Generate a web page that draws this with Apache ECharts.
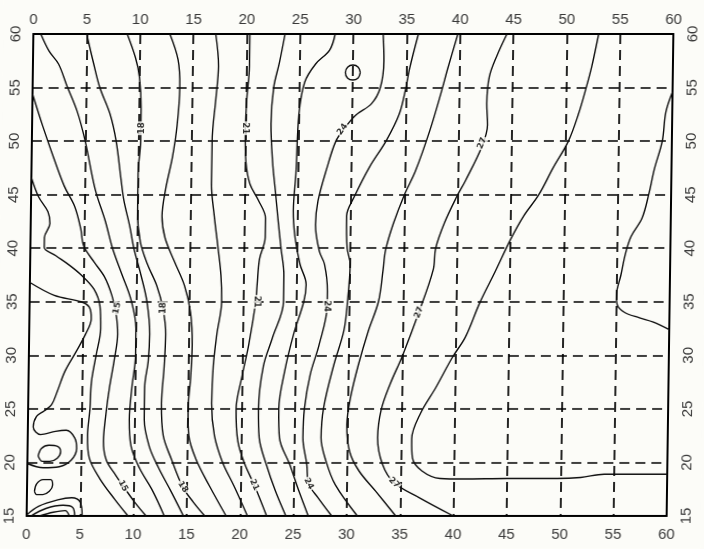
<!DOCTYPE html>
<html>
<head>
<meta charset="utf-8">
<script src="https://cdn.jsdelivr.net/npm/echarts@6/dist/echarts.min.js"></script>
<style>
  html, body { margin: 0; padding: 0; background: #fcfcf8; overflow: hidden; }
  /* the sheet sits very slightly slanted, like a scanned page */
  #chart { width: 704px; height: 549px; transform: skewX(-0.8deg); transform-origin: 350px 275px; }
</style>
</head>
<body>
<div id="chart"></div>
<script>
// Axis ticks
const xTicks = [0, 5, 10, 15, 20, 25, 30, 35, 40, 45, 50, 55, 60];
const yTicks = [15, 20, 25, 30, 35, 40, 45, 50, 55, 60];

// Contour polylines, one array per isoline, points as [x, y]
const c13 = [[0,36.8],[2.3,35.6],[4.8,35.0],[5.6,34.5],[5.8,33.4],[5.3,32.0],[4.4,30.3],[3.4,28.5],[2.7,26.6],[2.2,25.4],[1.5,24.8],[0.8,24.3],[0.5,23.3],[1.2,22.6],[2.6,22.9],[3.6,23.0],[4.4,22.3],[4.6,21.3],[4.1,20.2],[3.0,19.6],[1.5,19.5],[0,19.9]];
const loopA = [[1.0,20.6],[1.3,21.3],[2.0,21.6],[2.8,21.5],[3.1,21.0],[2.8,20.4],[2.1,20.1],[1.4,20.1],[1.0,20.6]];
const loopB = [[0.7,17.3],[0.9,18.0],[1.5,18.4],[2.2,18.4],[2.4,17.9],[2.1,17.3],[1.5,17.0],[0.9,17.0],[0.7,17.3]];
const arc1 = [[0,15.1],[1.1,15.9],[2.9,16.5],[4.2,16.7],[5.0,16.3],[5.2,15]];
const arc2 = [[0.4,15],[1.8,15.7],[3.4,16.0],[4.3,15.8],[4.5,15]];
const arc3 = [[1.2,15],[2.5,15.35],[3.6,15.5],[4.0,15]];
const c14 = [[0,46.6],[0.7,44.8],[1.6,43.4],[1.8,42.3],[1.3,41.0],[1.3,40.1],[2.4,39.3],[3.7,38.4],[4.8,37.5],[6.0,36.2],[6.6,34.6],[6.7,32.5],[6.3,30],[5.9,27.5],[5.8,25],[5.6,22.5],[5.8,20.4],[6.8,18.5],[8.2,16.6],[9.5,15]];
const c15 = [[0,54.4],[1.0,51.4],[1.9,48.9],[3.1,45.8],[4.1,43.9],[4.7,41.8],[5.0,40.2],[6.0,38.7],[7.0,37.3],[7.7,35.6],[8.1,34],[8.3,32],[8.0,29.5],[7.6,27],[7.3,24.5],[7.1,22],[7.4,20.2],[8.3,18.8],[9.0,17.8],[10.1,16.3],[11.2,15]];
const c16 = [[0.7,60],[1.5,58.4],[2.4,57.2],[3.2,55.2],[4.2,52.8],[5.0,50],[6.0,45.5],[7.0,42.5],[7.7,40],[8.6,37.6],[9.5,35.2],[10.0,32.5],[10.0,30],[9.7,27],[9.5,24],[9.7,21.5],[10.5,19.5],[11.8,17.3],[12.9,15]];
const c17 = [[5.0,60],[5.7,57.2],[6.3,55],[7.3,52.5],[7.9,50],[8.4,46.5],[8.7,44.5],[9.3,42],[9.7,40],[10.4,37.5],[11.0,35],[11.3,32],[11.2,29.5],[10.9,27],[10.9,24],[11.4,21.5],[12.3,19.5],[13.5,17.3],[14.7,15]];
const c18 = [[8.8,60],[9.6,57.8],[10.0,56],[10.2,53],[10.2,50],[10.0,47],[10.0,43.5],[10.3,40.6],[11.0,38.5],[11.9,36.5],[12.5,34.4],[12.8,32],[12.7,29],[12.5,25.5],[12.7,22.5],[13.5,20.3],[14.6,17.7],[15.6,16.3],[16.7,15]];
const c19 = [[12.8,60],[13.6,57.6],[13.8,55],[13.6,51.5],[13.2,48.5],[12.6,45.5],[12.3,43],[12.6,41],[13.5,38.8],[14.5,36.5],[15.1,34],[15.3,31],[15.2,28],[15.0,25],[15.1,22.5],[15.8,20.3],[17.1,17.8],[18.7,15]];
const c20 = [[17.1,60],[17.4,57],[17.2,54],[16.9,50],[16.9,46],[17.2,43],[17.6,40],[17.9,37.5],[18.0,35],[17.6,32],[17.3,29],[17.2,25.5],[17.5,22.5],[18.3,20],[19.4,17.8],[20.7,15]];
const c21 = [[20.3,60],[20.3,57],[20.1,54],[20.0,51],[20.1,48],[20.5,46],[21.3,44.5],[22.0,42.8],[22.0,41],[21.5,39],[21.3,36.5],[21.2,35],[20.6,31],[20.0,28],[19.5,25],[19.7,22],[20.4,19.8],[21.3,17.9],[22.5,15]];
const c22 = [[23.6,60],[23.1,57.3],[22.6,55],[22.4,51.6],[22.6,48],[22.9,45.3],[23.2,42.5],[23.5,40],[23.8,37.5],[23.8,35],[22.8,31.6],[22.0,29],[21.6,25],[21.7,22.3],[22.4,19.8],[23.3,17.3],[24.3,15]];
const c23 = [[28.3,60],[27.8,58.5],[26.5,57.2],[25.5,55.5],[25.0,52.5],[24.8,47],[24.6,43.5],[24.8,41],[25.3,38.5],[25.9,36.6],[25.7,35],[24.8,32],[24.0,28.5],[23.5,25],[23.6,22.3],[24.6,19.8],[25.5,17.3],[26.4,15]];
const c24 = [[32.8,60],[32.9,57.5],[32.6,55],[31.8,53.5],[30.3,52.4],[29.3,51.2],[28.5,50],[27.7,47.5],[26.9,44.4],[26.7,42.2],[27.1,39.7],[27.6,38.5],[27.9,36],[27.9,34.6],[27.2,31],[26.4,28.2],[25.9,25],[25.8,22.3],[26.2,19.8],[26.4,18],[27.3,16.7],[28.6,15]];
const c25 = [[36.1,60],[35.3,56.7],[35.0,55],[34.4,52.5],[33.2,50],[31.7,47.6],[30.3,44.8],[29.6,43],[29.7,40],[30.0,38.5],[29.8,35],[29.5,32.3],[28.6,29.1],[27.7,25.1],[27.5,22.3],[28.0,20.1],[28.9,17.9],[31.0,15]];
const c26 = [[39.8,60],[38.9,56.8],[38.3,54.5],[37.3,51],[36.0,47.2],[35.0,45],[34.0,42.3],[33.3,39.8],[33.1,38],[32.7,35],[31.8,32.3],[30.9,29.1],[30.2,26],[29.9,23.5],[30.2,21],[31.1,19.2],[32.7,17.3],[34.6,15]];
const c27 = [[44.4,60],[43.5,58],[42.8,56],[42.6,53.5],[42.7,51.5],[42.2,49.5],[40.7,46.3],[39.9,44.8],[38.8,42.4],[38.0,40],[37.8,38],[36.5,34],[35.0,29.9],[33.9,27.3],[33.1,24.9],[32.8,22.3],[33.3,19.8],[34.4,18.1],[36.8,16.7],[40,15]];
const c28 = [[53,60],[52.4,57],[51.9,55],[51.2,52.5],[50.3,50],[48.9,47.5],[47.6,45],[46.2,43],[45,40.8],[43.6,37.8],[42.2,34.9],[40.9,31.7],[39.7,29.8],[38.2,27],[36.8,24.6],[36,22.2],[36.1,20.4],[37,19.2],[38.7,18.5],[40.9,18.45],[45,18.5],[49.7,18.5],[51.9,18.6],[54.1,18.9],[60,18.9]];
const c29 = [[60,54.6],[59.4,52.7],[59.1,50],[58.4,47.4],[57.9,45],[57.3,42.8],[56.3,41.1],[55.8,39.5],[55.4,37.5],[55,35.6],[55.1,34.7],[55.8,34],[57.2,33.5],[58.5,33.1],[60,32.4]];
const ring = [[30.7,56.4],[30.5,56.9],[30,57.1],[29.5,56.9],[29.3,56.4],[29.5,55.9],[30,55.7],[30.5,55.9],[30.7,56.4]];

// Level labels: [x, y, text, angle]
const levelLabels = [
  [10.3, 51.2, '18', 90], [20.0, 51.2, '21', -90], [29.1, 51.1, '24', 55], [42.2, 49.8, '27', 69],
  [8.2, 34.4, '15', 80], [12.5, 34.4, '18', 90], [21.3, 35.0, '21', -90], [27.9, 34.6, '24', -90], [36.5, 34.0, '27', 70],
  [9.0, 17.8, '15', -60], [14.6, 17.7, '18', -57], [21.3, 17.9, '21', -66], [26.4, 18.0, '24', -63], [34.4, 18.1, '27', -45]
];

const isolines = [c13, loopA, loopB, arc1, arc2, arc3, c14, c15, c16, c17, c18, c19, c20, c21, c22, c23, c24, c25, c26, c27, c28, c29, ring];

const bg = '#fcfcf8';
const ink = '#0d0d0d';
const tickFont = { color: '#3a3a3a', fontSize: 15, fontFamily: 'Liberation Sans, Arial, sans-serif' };

const chart = echarts.init(document.getElementById('chart'), null, { renderer: 'canvas' });

const series = isolines.map(pts => ({
  type: 'line',
  data: pts,
  xAxisIndex: 0,
  yAxisIndex: 0,
  showSymbol: false,
  smooth: 0.35,
  clip: true,
  silent: true,
  lineStyle: { color: ink, width: 1.4 },
  z: 3
}));

series.push({
  type: 'scatter',
  xAxisIndex: 0,
  yAxisIndex: 0,
  symbolSize: 1,
  itemStyle: { color: 'rgba(0,0,0,0)' },
  silent: true,
  z: 5,
  data: levelLabels.map(l => ({
    value: [l[0], l[1]],
    label: {
      show: true,
      position: 'inside',
      formatter: l[2],
      rotate: l[3],
      fontSize: 8.5,
      fontWeight: 'bold',
      color: '#000',
      fontFamily: 'DejaVu Sans, sans-serif',
      backgroundColor: bg,
      padding: [0, 1]
    }
  }))
});

const splitStyle = { show: true, lineStyle: { color: '#000', width: 1.7, type: [10, 6] } };
const frameLine = { show: true, onZero: false, lineStyle: { color: '#000', width: 2 } };
const pick = list => v => list.includes(v) ? String(v) : '';

chart.setOption({
  backgroundColor: bg,
  animation: false,
  grid: { left: 30, right: 34, top: 34, bottom: 33, containLabel: false },
  xAxis: [
    { type: 'value', position: 'bottom', min: 0, max: 60, interval: 5,
      axisLine: frameLine, axisTick: { show: false },
      axisLabel: Object.assign({ margin: 11, formatter: pick(xTicks) }, tickFont),
      splitLine: splitStyle },
    { type: 'value', position: 'top', min: 0, max: 60, interval: 5,
      axisLine: frameLine, axisTick: { show: false },
      axisLabel: Object.assign({ margin: 7, formatter: pick(xTicks) }, tickFont),
      splitLine: { show: false } }
  ],
  yAxis: [
    { type: 'value', position: 'left', min: 15, max: 60, interval: 5,
      axisLine: frameLine, axisTick: { show: false },
      axisLabel: Object.assign({ margin: 10, rotate: 90, formatter: pick(yTicks) }, tickFont),
      splitLine: splitStyle },
    { type: 'value', position: 'right', min: 15, max: 60, interval: 5,
      axisLine: frameLine, axisTick: { show: false },
      axisLabel: Object.assign({ margin: 12, rotate: 90, formatter: pick(yTicks) }, tickFont),
      splitLine: { show: false } }
  ],
  series: series
});
</script>
</body>
</html>
